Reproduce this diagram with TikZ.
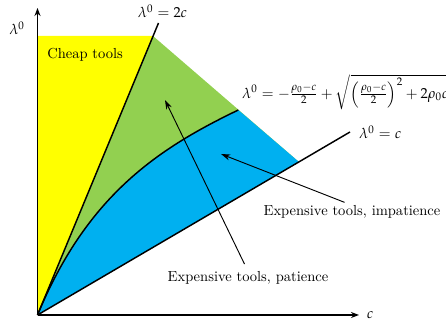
\documentclass[tikz,border=0pt]{standalone}
\usepackage{mathpazo}
\usetikzlibrary{arrows.meta}
\definecolor{cheap}{HTML}{FFFF00}
\definecolor{patg}{HTML}{92D050}
\definecolor{impb}{HTML}{00B0F0}
\begin{document}
\begin{tikzpicture}[x=0.75pt,y=0.75pt,
  bnd/.style={line width=1.1pt, black},
  axis/.style={line width=1.1pt, -{Stealth[length=6pt,width=4.5pt]}},
  arr/.style={line width=0.7pt, -{Stealth[length=7pt,width=4.5pt]}},
  lbl/.style={inner sep=0pt, font=\fontsize{10.9}{13}\selectfont}]
\useasboundingbox (0,0) rectangle (446,327);
\coordinate (O) at (37.5,12);
\coordinate (ytop) at (37.5,319);
\coordinate (xend) at (359,12);
\coordinate (ycorner) at (153,291);
\coordinate (bcorner) at (299,165);
\coordinate (cend) at (238.3,217);
\coordinate (twoc) at (158.5,304);
\coordinate (onec) at (350,195);
\def\curvepath{(O) .. controls (86.5,130.3) and (156.3,177.6) .. (cend)}
% regions
\fill[cheap] (O) -- (37.5,291) -- (ycorner) -- cycle;
\fill[patg] (O) -- (ycorner) -- (bcorner) -- cycle;
\fill[impb] \curvepath -- (bcorner) -- cycle;
% boundaries
\draw[bnd] (O) -- (twoc);
\draw[bnd] (O) -- (onec);
\draw[bnd] \curvepath;
% axes
\draw[axis] (O) -- (ytop);
\draw[axis] (O) -- (xend);
% labels
\node[lbl] (ylab) at (17,299) {$\lambda^0$};
\node[lbl] (xlab) at (370,12) {$c$};
\node[lbl, anchor=west] (cheapl) at (47,272) {Cheap tools};
\node[lbl] (l2c) at (162.5,316) {$\lambda^0=2c$};
\node[lbl, anchor=west] (lc) at (359,195) {$\lambda^0=c$};
\node[lbl, anchor=west] (lcurve) at (242,235) {$\lambda^0=-\frac{\rho_0-c}{2}+\sqrt{\left(\frac{\rho_0-c}{2}\right)^2+2\rho_0 c}$};
\node[lbl] (pat) at (248,49) {Expensive tools, patience};
\node[lbl] (imp) at (352,115) {Expensive tools, impatience};
% arrows
\coordinate (tipP) at (165,227);
\coordinate (tipI) at (221,173);
\draw[arr, shorten <=6pt] (pat.north) -- (tipP);
\draw[arr, shorten <=6pt] (imp.north) -- (tipI);
\end{tikzpicture}
\end{document}
